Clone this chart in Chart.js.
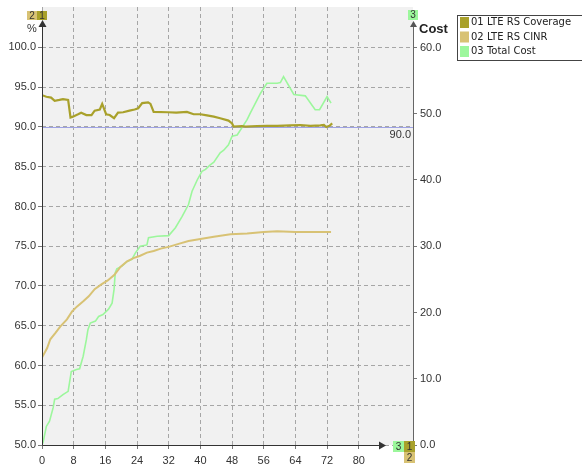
<!DOCTYPE html>
<html>
<head>
<meta charset="utf-8">
<script src="https://cdn.jsdelivr.net/npm/chart.js@4/dist/chart.umd.min.js"></script>
<style>
  html, body { margin: 0; padding: 0; background: #ffffff; }
  canvas { display: block; }
</style>
</head>
<body>
<canvas id="c" width="582" height="469"></canvas>
<script>
// Series names (legend order)
const SERIES_NAMES = ['01 LTE RS Coverage', '02 LTE RS CINR', '03 Total Cost'];
const SERIES_COLORS = ['#a9a12b', '#d8c274', '#9cf79c'];

// 01 LTE RS Coverage (%), left axis
const COVERAGE_X = [0, 1.1, 2.3, 3.2, 4.4, 5.3, 6.6, 7.2, 7.8, 9.1, 9.9, 11.2, 12.5, 13.3, 14.6, 15.2, 16.2, 17.1, 18.2, 19.2, 20.5, 22.1, 23.4, 24.3, 25.3, 26.8, 27.4, 28.2, 31.8, 33.9, 36.6, 38.3, 40, 41.3, 43.4, 45, 47.1, 48, 48.4, 50.5, 51.4, 54.3, 56.8, 59.4, 62.7, 65.3, 67.8, 70.3, 71.2, 71.8, 72.6, 73.3];
const COVERAGE_Y = [94.0, 93.8, 93.7, 93.3, 93.4, 93.5, 93.4, 91.2, 91.3, 91.6, 91.8, 91.5, 91.5, 92.05, 92.2, 92.9, 91.6, 91.5, 91.1, 91.8, 91.85, 92.05, 92.2, 92.35, 93.0, 93.1, 92.9, 91.9, 91.85, 91.8, 91.9, 91.6, 91.6, 91.5, 91.3, 91.1, 90.8, 90.45, 90.05, 90.1, 90.05, 90.1, 90.15, 90.15, 90.2, 90.25, 90.15, 90.2, 90.25, 90.0, 90.15, 90.45];

// 02 LTE RS CINR, left axis
const CINR_X = [0, 1.3, 2.1, 3.4, 4.6, 6.3, 7.6, 8.8, 10.5, 11.8, 13.3, 15.0, 16.6, 18.3, 19.8, 21.5, 23.1, 24.8, 26.5, 28.2, 30.0, 32.2, 34.5, 37, 40, 43.4, 47.6, 51.8, 56, 59.4, 64, 68, 73];
const CINR_Y = [61.0, 62.2, 63.3, 64.1, 64.9, 65.8, 66.8, 67.4, 68.1, 68.7, 69.6, 70.2, 70.7, 71.4, 72.4, 73.1, 73.5, 73.8, 74.2, 74.4, 74.7, 74.95, 75.3, 75.65, 75.9, 76.2, 76.5, 76.6, 76.8, 76.9, 76.8, 76.8, 76.8];

// 03 Total Cost, right axis
const COST_X = [0, 0.3, 1.1, 1.9, 2.8, 3.2, 4.0, 5.3, 6.6, 7.0, 7.4, 8.7, 9.5, 10.4, 11.2, 11.6, 12.2, 13.5, 14.3, 15.4, 16.8, 17.7, 18.2, 18.5, 18.9, 20.2, 21.5, 22.7, 23.6, 24.8, 26.5, 26.9, 29.1, 32.0, 33.7, 35.4, 37.0, 37.9, 39.2, 40.4, 41.3, 42.5, 43.4, 45.0, 45.9, 47.1, 48.0, 49.3, 51.8, 52.6, 55.2, 56.8, 59.4, 60.2, 61.0, 63.6, 66.5, 69.0, 70.1, 72.0, 73.0];
const COST_Y = [0, 0.5, 2.8, 3.6, 5.6, 6.9, 7.0, 7.6, 8.1, 9.6, 11.1, 11.4, 11.5, 13.4, 15.9, 17.4, 18.4, 18.7, 19.4, 19.7, 20.5, 21.4, 23.5, 26.0, 26.6, 27.0, 27.7, 28.0, 29.0, 30.0, 30.2, 31.3, 31.5, 31.6, 32.8, 34.5, 36.3, 38.3, 40.0, 41.3, 41.6, 42.3, 42.7, 44.1, 44.5, 45.3, 46.6, 46.8, 49.1, 50.1, 53.1, 54.6, 54.6, 54.7, 55.6, 52.9, 52.7, 50.6, 50.6, 52.6, 51.6];

// Axis ticks and the coverage threshold
const X_TICKS = [0, 8, 16, 24, 32, 40, 48, 56, 64, 72, 80];
const Y_TICKS = [50, 55, 60, 65, 70, 75, 80, 85, 90, 95, 100];
const Y2_TICKS = [0, 10, 20, 30, 40, 50, 60];
const THRESHOLD = 90;

const toPoints = (xs, ys) => xs.map((x, i) => ({ x: x, y: ys[i] }));

const TICK_FONT = { family: 'Liberation Sans, Arial, sans-serif', size: 11 };
const TEXT_COLOR = '#333333';
const AXIS_COLOR = '#333333';

function badge(ctx, x, y, w, h, color, label) {
  ctx.fillStyle = color;
  ctx.fillRect(x, y, w, h);
  ctx.fillStyle = '#333333';
  ctx.font = '10px "Liberation Sans", Arial, sans-serif';
  ctx.textAlign = 'center';
  ctx.textBaseline = 'middle';
  ctx.fillText(label, x + w / 2, y + h / 2 + 0.5);
}

const decorations = {
  id: 'decorations',
  beforeDraw(chart) {
    const { ctx, chartArea: a } = chart;
    ctx.save();
    ctx.fillStyle = '#f1f1f1';
    ctx.fillRect(a.left, a.top, a.right - a.left, a.bottom - a.top);
    ctx.restore();
  },
  beforeDatasetsDraw(chart) {
    const { ctx, chartArea: a, scales } = chart;
    const yy = Math.round(scales.y.getPixelForValue(THRESHOLD)) + 0.5;
    ctx.save();
    ctx.strokeStyle = '#9ea2e4';
    ctx.lineWidth = 1;
    ctx.beginPath();
    ctx.moveTo(a.left, yy);
    ctx.lineTo(a.right, yy);
    ctx.stroke();
    ctx.fillStyle = TEXT_COLOR;
    ctx.font = '11px "Liberation Sans", Arial, sans-serif';
    ctx.textAlign = 'right';
    ctx.textBaseline = 'middle';
    ctx.fillText(THRESHOLD.toFixed(1), a.right - 2, yy + 7.5);
    ctx.restore();
  },
  afterDraw(chart) {
    const { ctx, chartArea: a } = chart;
    const L = a.left + 0.5, B = a.bottom + 0.5, R = a.right + 0.5;
    ctx.save();
    // left axis with arrow
    ctx.strokeStyle = AXIS_COLOR;
    ctx.fillStyle = AXIS_COLOR;
    ctx.lineWidth = 1;
    ctx.beginPath();
    ctx.moveTo(L, B); ctx.lineTo(L, 25);
    ctx.stroke();
    ctx.beginPath();
    ctx.moveTo(L, 20); ctx.lineTo(L - 4, 27); ctx.lineTo(L + 4, 27); ctx.closePath();
    ctx.fill();
    // bottom axis with arrow
    ctx.beginPath();
    ctx.moveTo(L, B); ctx.lineTo(380, B);
    ctx.stroke();
    ctx.beginPath();
    ctx.moveTo(386, B); ctx.lineTo(379, B - 4); ctx.lineTo(379, B + 4); ctx.closePath();
    ctx.fill();
    // right axis with arrow
    ctx.strokeStyle = '#666666';
    ctx.fillStyle = '#555555';
    ctx.beginPath();
    ctx.moveTo(R, B); ctx.lineTo(R, 25);
    ctx.stroke();
    ctx.beginPath();
    ctx.moveTo(R, 21); ctx.lineTo(R - 3.5, 27); ctx.lineTo(R + 3.5, 27); ctx.closePath();
    ctx.fill();

    // axis titles
    ctx.fillStyle = TEXT_COLOR;
    ctx.font = '11px "Liberation Sans", Arial, sans-serif';
    ctx.textAlign = 'center';
    ctx.textBaseline = 'middle';
    ctx.fillText('%', 32, 29);
    ctx.fillStyle = '#222222';
    ctx.font = 'bold 13px "Liberation Sans", Arial, sans-serif';
    ctx.textAlign = 'left';
    ctx.fillText('Cost', 419, 29.5);

    // series badges on the axes
    badge(ctx, 27, 11, 10, 9, SERIES_COLORS[1], '2');
    badge(ctx, 37, 11, 10, 9, SERIES_COLORS[0], '1');
    badge(ctx, 408, 10, 10, 10, SERIES_COLORS[2], '3');
    badge(ctx, 393, 441, 11, 11, SERIES_COLORS[2], '3');
    badge(ctx, 404, 441, 11, 11, SERIES_COLORS[0], '1');
    badge(ctx, 404, 452, 11, 11, SERIES_COLORS[1], '2');

    // legend
    ctx.strokeStyle = '#444444';
    ctx.lineWidth = 1;
    ctx.strokeRect(457.5, 15.5, 140, 45);
    ctx.font = '10px "DejaVu Sans", Verdana, sans-serif';
    ctx.textAlign = 'left';
    ctx.textBaseline = 'middle';
    SERIES_NAMES.forEach((name, i) => {
      const y = 17 + i * 14.5;
      ctx.fillStyle = SERIES_COLORS[i];
      ctx.fillRect(460, y, 9, 11);
      ctx.fillStyle = '#222222';
      ctx.fillText(name, 471, y + 5.5);
    });
    ctx.restore();
  }
};

const fixTicks = list => scale => { scale.ticks = list.map(v => ({ value: v })); };

new Chart(document.getElementById('c'), {
  type: 'line',
  data: {
    datasets: [
      { label: SERIES_NAMES[0], data: toPoints(COVERAGE_X, COVERAGE_Y), yAxisID: 'y', borderColor: SERIES_COLORS[0], borderWidth: 2.2 },
      { label: SERIES_NAMES[1], data: toPoints(CINR_X, CINR_Y), yAxisID: 'y', borderColor: SERIES_COLORS[1], borderWidth: 2 },
      { label: SERIES_NAMES[2], data: toPoints(COST_X, COST_Y), yAxisID: 'y2', borderColor: SERIES_COLORS[2], borderWidth: 1.6 }
    ]
  },
  options: {
    responsive: false,
    animation: false,
    devicePixelRatio: 1,
    layout: { padding: { top: 7, left: 0, right: 0, bottom: 0 } },
    elements: { point: { radius: 0 }, line: { tension: 0, fill: false } },
    plugins: { legend: { display: false }, tooltip: { enabled: false } },
    scales: {
      x: {
        type: 'linear', min: 0, max: 93.7,
        afterBuildTicks: fixTicks(X_TICKS),
        afterFit: s => { s.height = 24; s.paddingLeft = 0; s.paddingRight = 0; },
        grid: { color: '#a6a6a6', lineWidth: 1, drawTicks: true, tickLength: 4, tickColor: '#777777' },
        border: { display: false, dash: [4, 3] },
        ticks: { font: TICK_FONT, color: TEXT_COLOR, padding: 5, maxRotation: 0, autoSkip: false, callback: v => String(v) }
      },
      y: {
        position: 'left', min: 50, max: 105.09,
        afterBuildTicks: fixTicks(Y_TICKS),
        afterFit: s => { s.width = 42; s.paddingTop = 0; s.paddingBottom = 0; },
        grid: { color: '#a6a6a6', lineWidth: 1, drawTicks: true, tickLength: 4, tickColor: '#777777' },
        border: { display: false, dash: [4, 3] },
        ticks: { font: TICK_FONT, color: TEXT_COLOR, padding: 2, autoSkip: false, callback: v => v.toFixed(1) }
      },
      y2: {
        position: 'right', min: 0, max: 66.11,
        afterBuildTicks: fixTicks(Y2_TICKS),
        afterFit: s => { s.width = 582 - 413; s.paddingTop = 0; s.paddingBottom = 0; },
        grid: { drawOnChartArea: false, drawTicks: true, tickLength: 4, tickColor: '#777777' },
        border: { display: false },
        ticks: { font: TICK_FONT, color: TEXT_COLOR, padding: 3, autoSkip: false, callback: v => v.toFixed(1) }
      }
    }
  },
  plugins: [decorations]
});
</script>
</body>
</html>
